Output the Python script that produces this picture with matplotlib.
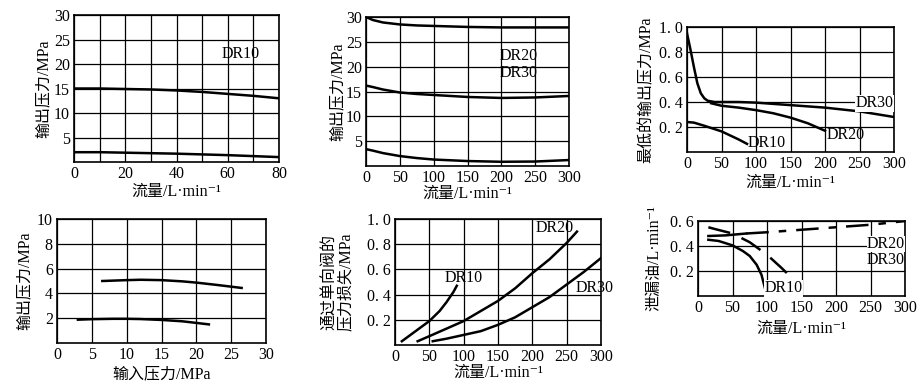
import matplotlib
matplotlib.use('Agg')
import matplotlib.pyplot as plt
from matplotlib.ticker import MultipleLocator

plt.rcParams['font.family'] = ['Liberation Serif', 'Noto Sans CJK SC', 'DejaVu Serif']
plt.rcParams['font.size'] = 11.5

W, H = 917, 390

# panel 1: output pressure vs flow, DR10
p1_x = [0, 10, 20, 30, 40, 50, 60, 70, 80]
p1_hi = [15.0, 15.0, 14.9, 14.8, 14.6, 14.3, 13.9, 13.5, 13.0]
p1_lo = [2.0, 2.0, 1.9, 1.8, 1.7, 1.55, 1.4, 1.2, 1.0]

# panel 2: output pressure vs flow, DR20/DR30
p2_x = [0, 10, 25, 50, 75, 100, 150, 200, 250, 300]
p2_hi = [30.0, 29.4, 28.9, 28.5, 28.3, 28.2, 28.0, 27.9, 27.9, 27.9]
p2_mid = [16.2, 15.9, 15.4, 14.8, 14.5, 14.3, 13.9, 13.7, 13.8, 14.1]
p2_lo = [3.4, 3.1, 2.6, 2.0, 1.6, 1.3, 1.0, 0.85, 0.9, 1.2]

# panel 3: minimum output pressure vs flow
p3_dr30_x = [0, 5, 10, 15, 20, 25, 30, 40, 50, 75, 100, 150, 200, 250, 300]
p3_dr30_y = [0.95, 0.82, 0.68, 0.55, 0.47, 0.43, 0.41, 0.40, 0.40, 0.40, 0.395, 0.375, 0.355, 0.325, 0.28]
p3_dr20_x = [35, 50, 75, 100, 125, 150, 175, 200]
p3_dr20_y = [0.39, 0.37, 0.355, 0.335, 0.31, 0.275, 0.23, 0.17]
p3_dr10_x = [0, 10, 25, 50, 75, 87]
p3_dr10_y = [0.24, 0.235, 0.21, 0.165, 0.10, 0.065]

# panel 4: output pressure vs input pressure
p4_hi_x = [6.5, 8, 10, 12, 15, 18, 20, 23, 26.5]
p4_hi_y = [5.0, 5.03, 5.07, 5.1, 5.07, 4.97, 4.87, 4.68, 4.44]
p4_lo_x = [3, 5, 8, 10, 12, 15, 18, 20, 21.8]
p4_lo_y = [1.88, 1.92, 1.95, 1.95, 1.93, 1.86, 1.75, 1.62, 1.5]

# panel 5: check valve pressure loss
p5_dr10_x = [10, 25, 50, 65, 75, 85, 90]
p5_dr10_y = [0.03, 0.09, 0.19, 0.27, 0.34, 0.42, 0.47]
p5_dr20_x = [33, 50, 75, 100, 125, 150, 175, 200, 225, 250, 265]
p5_dr20_y = [0.03, 0.07, 0.13, 0.19, 0.27, 0.35, 0.45, 0.57, 0.68, 0.81, 0.90]
p5_dr30_x = [55, 75, 100, 125, 150, 175, 200, 225, 250, 275, 300]
p5_dr30_y = [0.03, 0.05, 0.08, 0.11, 0.16, 0.22, 0.30, 0.38, 0.48, 0.58, 0.69]

# panel 6: leakage oil
p6_big_x = [15, 40, 70, 100, 150, 200, 250, 300]
p6_big_y = [0.48, 0.485, 0.50, 0.51, 0.53, 0.55, 0.57, 0.60]
p6_dash_x = [15, 25, 50, 75, 100, 120, 135]
p6_dash_y = [0.55, 0.535, 0.50, 0.43, 0.33, 0.23, 0.15]
p6_dr10_x = [15, 30, 50, 65, 75, 85, 92, 100]
p6_dr10_y = [0.45, 0.44, 0.405, 0.36, 0.32, 0.25, 0.17, 0.0]

flow_label = '流量/L·min⁻¹'


def make_ax(fig, l, r, t, b):
    ax = fig.add_axes([l / W, 1 - b / H, (r - l) / W, (b - t) / H])
    for s in ax.spines.values():
        s.set_linewidth(1.2)
    ax.grid(True, which='both', color='black', linewidth=0.9)
    ax.tick_params(which='both', length=0, pad=3)
    return ax


def dot_labels(vals):
    return [('%.1f' % v).replace('.', '. ') for v in vals]


fig = plt.figure(figsize=(W / 100, H / 100), dpi=100)

# ---- panel 1
ax = make_ax(fig, 74, 279, 15, 162)
ax.plot(p1_x, p1_hi, 'k-', lw=1.8)
ax.plot(p1_x, p1_lo, 'k-', lw=1.8)
ax.set_xlim(0, 80)
ax.set_ylim(0, 30)
ax.set_xticks([0, 20, 40, 60, 80])
ax.xaxis.set_minor_locator(MultipleLocator(10))
ax.set_yticks([5, 10, 15, 20, 25, 30])
ax.text(65, 22, 'DR10', ha='center', va='center')
ax.set_ylabel('输出压力/MPa')
ax.yaxis.set_label_coords(-0.11, 0.5)
ax.set_xlabel(flow_label)
ax.xaxis.set_label_coords(0.5, -0.145)

# ---- panel 2
ax = make_ax(fig, 366, 569, 17, 166)
ax.plot(p2_x, p2_hi, 'k-', lw=1.8)
ax.plot(p2_x, p2_mid, 'k-', lw=1.8)
ax.plot(p2_x, p2_lo, 'k-', lw=1.8)
ax.set_xlim(0, 300)
ax.set_ylim(0, 30)
ax.set_xticks(range(0, 301, 50))
ax.set_yticks([5, 10, 15, 20, 25, 30])
ax.text(226, 22.2, 'DR20', ha='center', va='center')
ax.text(226, 18.8, 'DR30', ha='center', va='center')
ax.set_ylabel('输出压力/MPa')
ax.yaxis.set_label_coords(-0.10, 0.5)
ax.set_xlabel(flow_label)
ax.xaxis.set_label_coords(0.5, -0.135)

# ---- panel 3
ax = make_ax(fig, 687, 894, 27, 152)
ax.plot(p3_dr30_x, p3_dr30_y, 'k-', lw=1.8)
ax.plot(p3_dr20_x, p3_dr20_y, 'k-', lw=1.8)
ax.plot(p3_dr10_x, p3_dr10_y, 'k-', lw=1.8)
ax.set_xlim(0, 300)
ax.set_ylim(0, 1.0)
ax.set_xticks(range(0, 301, 50))
yt = [0.2, 0.4, 0.6, 0.8, 1.0]
ax.set_yticks(yt)
ax.set_yticklabels(dot_labels(yt))
ax.text(272, 0.39, 'DR30', ha='center', va='center',
        bbox=dict(facecolor='white', edgecolor='none', pad=0.5))
ax.text(230, 0.135, 'DR20', ha='center', va='center')
ax.text(115, 0.07, 'DR10', ha='center', va='center')
ax.set_ylabel('最低的输出压力/MPa')
ax.yaxis.set_label_coords(-0.155, 0.5)
ax.set_xlabel(flow_label)
ax.xaxis.set_label_coords(0.5, -0.18)

# ---- panel 4
ax = make_ax(fig, 57, 266, 219, 343)
ax.plot(p4_hi_x, p4_hi_y, 'k-', lw=1.8)
ax.plot(p4_lo_x, p4_lo_y, 'k-', lw=1.8)
ax.set_xlim(0, 30)
ax.set_ylim(0, 10)
ax.set_xticks(range(0, 31, 5))
ax.set_yticks([2, 4, 6, 8, 10])
ax.set_ylabel('输出压力/MPa')
ax.yaxis.set_label_coords(-0.115, 0.5)
ax.set_xlabel('输入压力/MPa')
ax.xaxis.set_label_coords(0.5, -0.19)

# ---- panel 5
ax = make_ax(fig, 395, 601, 219, 345)
ax.plot(p5_dr10_x, p5_dr10_y, 'k-', lw=1.8)
ax.plot(p5_dr20_x, p5_dr20_y, 'k-', lw=1.8)
ax.plot(p5_dr30_x, p5_dr30_y, 'k-', lw=1.8)
ax.set_xlim(0, 300)
ax.set_ylim(0, 1.0)
ax.set_xticks(range(0, 301, 50))
ax.set_yticks(yt)
ax.set_yticklabels(dot_labels(yt))
ax.text(100, 0.53, 'DR10', ha='center', va='center')
ax.text(233, 0.93, 'DR20', ha='center', va='center')
ax.text(290, 0.45, 'DR30', ha='center', va='center', clip_on=False)
ax.set_ylabel('通过单向阀的\n压力损失/MPa', linespacing=1.0)
ax.yaxis.set_label_coords(-0.2, 0.5)
ax.set_xlabel(flow_label)
ax.xaxis.set_label_coords(0.5, -0.16)

# ---- panel 6
ax = make_ax(fig, 698, 905, 221, 296)
ax.plot(p6_big_x[:3], p6_big_y[:3], 'k-', lw=1.8)
ax.plot(p6_big_x[2:], p6_big_y[2:], color='black', lw=1.8,
        linestyle=(0, (9, 4, 3, 4)))
ax.plot(p6_dash_x, p6_dash_y, color='black', lw=1.8, linestyle=(0, (9, 5)))
ax.plot(p6_dr10_x, p6_dr10_y, 'k-', lw=1.8)
ax.set_xlim(0, 300)
ax.set_ylim(0, 0.6)
ax.set_xticks(range(0, 301, 50))
yt6 = [0.2, 0.4, 0.6]
ax.set_yticks(yt6)
ax.set_yticklabels(dot_labels(yt6))
ax.text(272, 0.415, 'DR20', ha='center', va='center',
        bbox=dict(facecolor='white', edgecolor='none', pad=0))
ax.text(272, 0.29, 'DR30', ha='center', va='center')
ax.text(124, 0.06, 'DR10', ha='center', va='center',
        bbox=dict(facecolor='white', edgecolor='none', pad=0.3))
ax.set_ylabel('泄漏油/L·min⁻¹')
ax.yaxis.set_label_coords(-0.17, 0.5)
ax.set_xlabel(flow_label)
ax.xaxis.set_label_coords(0.5, -0.33)

fig.savefig('out.png', dpi=100)
